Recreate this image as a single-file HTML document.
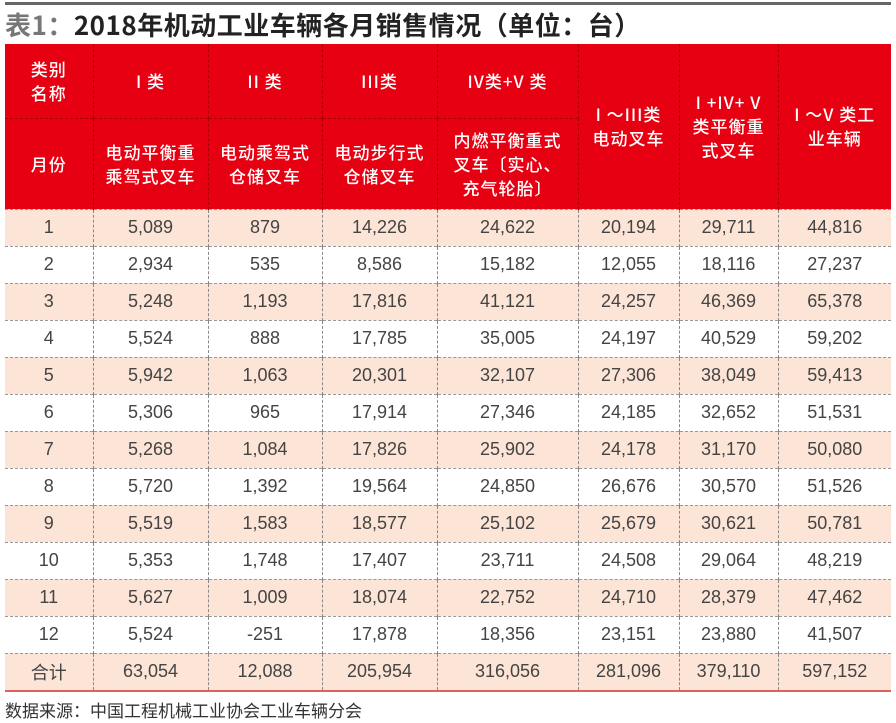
<!DOCTYPE html>
<html><head><meta charset="utf-8"><style>
body{margin:0;width:896px;height:723px;background:#fff;position:relative;overflow:hidden;font-family:"Liberation Sans","Noto Sans CJK SC",sans-serif}
.top{position:absolute;left:5px;top:2px;width:886px;height:3px;background:#666}
.title{position:absolute;left:5px;top:6px;font-size:26px;font-weight:bold;color:#222;font-family:"Noto Sans CJK SC",sans-serif;line-height:38px;letter-spacing:0.5px}
.title span{color:#777}
table{position:absolute;left:5px;top:44px;border-collapse:collapse;table-layout:fixed;width:886px}
td{text-align:center;padding:0;font-size:18px;color:#444;border-left:1px dashed #888;border-top:1px dashed #999}
td:first-child{border-left:none}
th{background:#e60012;font-weight:500;font-size:17px;line-height:24px;border-left:1px dashed #a00;border-top:1px dashed #a00;padding:0;font-family:"Noto Sans CJK SC",sans-serif;color:#fff;letter-spacing:1px}
tr.h th:first-child{border-left:none}
tr.r td{height:36px}
tr.p td{background:#fce4d6}
tr.last td{border-bottom:2px solid #e06060}
.src{position:absolute;left:5px;top:697px;font-size:17px;color:#333;font-family:"Noto Sans CJK SC",sans-serif}
</style></head><body>
<div class="top"></div>
<div class="title"><span>表1：</span>2018年机动工业车辆各月销售情况（单位：台）</div>
<table>
<colgroup><col style="width:88px"><col style="width:115px"><col style="width:114px"><col style="width:115px"><col style="width:141px"><col style="width:101px"><col style="width:99px"><col style="width:113px"></colgroup>
<tr class="h" style="height:74px"><th style="border-top:none">类别<br>名称</th><th style="border-top:none">I 类</th><th style="border-top:none">II 类</th><th style="border-top:none">III类</th><th style="border-top:none">IV类+V 类</th><th rowspan="2" style="border-top:none">I ～III类<br>电动叉车</th><th rowspan="2" style="border-top:none">I +IV+ V<br>类平衡重<br>式叉车</th><th rowspan="2" style="border-top:none">I ～V 类工<br>业车辆</th></tr>
<tr class="h" style="height:91px"><th>月份</th><th>电动平衡重<br>乘驾式叉车</th><th>电动乘驾式<br>仓储叉车</th><th>电动步行式<br>仓储叉车</th><th>内燃平衡重式<br>叉车〔实心、<br>充气轮胎〕</th></tr>
<tr class="r p"><td>1</td><td>5,089</td><td>879</td><td>14,226</td><td>24,622</td><td>20,194</td><td>29,711</td><td>44,816</td></tr>
<tr class="r"><td>2</td><td>2,934</td><td>535</td><td>8,586</td><td>15,182</td><td>12,055</td><td>18,116</td><td>27,237</td></tr>
<tr class="r p"><td>3</td><td>5,248</td><td>1,193</td><td>17,816</td><td>41,121</td><td>24,257</td><td>46,369</td><td>65,378</td></tr>
<tr class="r"><td>4</td><td>5,524</td><td>888</td><td>17,785</td><td>35,005</td><td>24,197</td><td>40,529</td><td>59,202</td></tr>
<tr class="r p"><td>5</td><td>5,942</td><td>1,063</td><td>20,301</td><td>32,107</td><td>27,306</td><td>38,049</td><td>59,413</td></tr>
<tr class="r"><td>6</td><td>5,306</td><td>965</td><td>17,914</td><td>27,346</td><td>24,185</td><td>32,652</td><td>51,531</td></tr>
<tr class="r p"><td>7</td><td>5,268</td><td>1,084</td><td>17,826</td><td>25,902</td><td>24,178</td><td>31,170</td><td>50,080</td></tr>
<tr class="r"><td>8</td><td>5,720</td><td>1,392</td><td>19,564</td><td>24,850</td><td>26,676</td><td>30,570</td><td>51,526</td></tr>
<tr class="r p"><td>9</td><td>5,519</td><td>1,583</td><td>18,577</td><td>25,102</td><td>25,679</td><td>30,621</td><td>50,781</td></tr>
<tr class="r"><td>10</td><td>5,353</td><td>1,748</td><td>17,407</td><td>23,711</td><td>24,508</td><td>29,064</td><td>48,219</td></tr>
<tr class="r p"><td>11</td><td>5,627</td><td>1,009</td><td>18,074</td><td>22,752</td><td>24,710</td><td>28,379</td><td>47,462</td></tr>
<tr class="r"><td>12</td><td>5,524</td><td>-251</td><td>17,878</td><td>18,356</td><td>23,151</td><td>23,880</td><td>41,507</td></tr>
<tr class="r p last"><td style="font-family:'Noto Sans CJK SC',sans-serif">合计</td><td>63,054</td><td>12,088</td><td>205,954</td><td>316,056</td><td>281,096</td><td>379,110</td><td>597,152</td></tr>
</table>
<div class="src">数据来源：中国工程机械工业协会工业车辆分会</div>
</body></html>
